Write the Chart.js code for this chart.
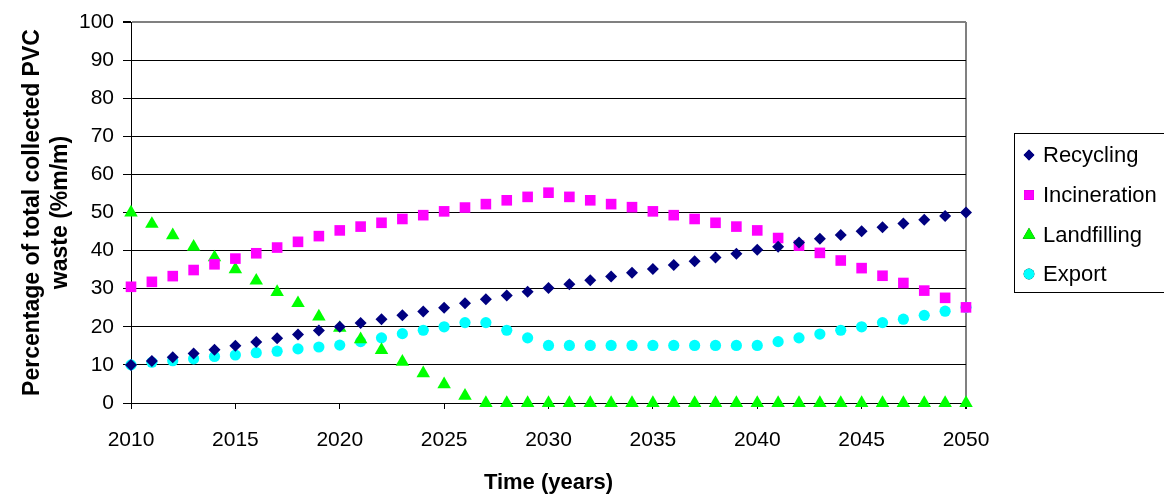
<!DOCTYPE html>
<html>
<head>
<meta charset="utf-8">
<script src="https://cdn.jsdelivr.net/npm/chart.js@4/dist/chart.umd.min.js"></script>
<style>
  html, body { margin: 0; padding: 0; background: #fff; }
  #wrap { width: 1164px; height: 496px; position: relative; }
</style>
</head>
<body>
<div id="wrap"><canvas id="c" width="1164" height="496"></canvas></div>
<script>
const years = [2010,2011,2012,2013,2014,2015,2016,2017,2018,2019,2020,2021,2022,2023,2024,2025,2026,2027,2028,2029,2030,2031,2032,2033,2034,2035,2036,2037,2038,2039,2040,2041,2042,2043,2044,2045,2046,2047,2048,2049,2050];
const recycling = [10,11,12,13,14,15,16,17,18,19,20,21,22,23,24,25,26.2,27.2,28.2,29.2,30.2,31.2,32.2,33.2,34.2,35.2,36.2,37.2,38.2,39.2,40.2,41,42.1,43.1,44.1,45.1,46.1,47.1,48.1,49.1,50];
const incineration = [30.5,31.8,33.3,34.9,36.4,37.9,39.3,40.8,42.3,43.8,45.3,46.3,47.3,48.3,49.3,50.3,51.3,52.2,53.2,54.1,55.2,54.1,53.2,52.2,51.4,50.3,49.3,48.3,47.3,46.3,45.3,43.3,41.3,39.4,37.4,35.4,33.4,31.5,29.5,27.6,25.1];
const landfilling = [50,47,44,41,38.2,35.1,32.1,29.1,26.2,22.7,19.7,16.7,13.9,10.8,7.8,4.9,1.9,0,0,0,0,0,0,0,0,0,0,0,0,0,0,0,0,0,0,0,0,0,0,0,0];
const exportVals = [10,10.7,11.1,11.6,12.2,12.6,13.2,13.6,14.2,14.7,15.2,16.1,17.1,18.2,19.1,20,21.1,21.1,19.1,17.1,15.1,15.1,15.1,15.1,15.1,15.1,15.1,15.1,15.1,15.1,15.1,16.1,17.1,18.1,19.1,20,21.1,22,23,24.1,25.1];
const seriesNames = ['Recycling','Incineration','Landfilling','Export'];
const yTitle = ['Percentage of total collected PVC', 'waste (%m/m)'];
const xTitle = 'Time (years)';

const FONT = "'Liberation Sans', Arial, sans-serif";
const toPts = vals => years.map((yr, i) => ({x: yr, y: vals[i]}));

const styles = [
  {pointStyle: 'rectRot', color: '#000080', radius: 6},
  {pointStyle: 'rect', color: '#FF00FF', radius: 7.5},
  {pointStyle: 'triangle', color: '#00FF00', radius: 7.8},
  {pointStyle: 'circle', color: '#00FFFF', radius: 5.6}
];
const seriesData = [recycling, incineration, landfilling, exportVals];

const datasets = seriesNames.map((name, k) => ({
  label: name,
  data: toPts(seriesData[k]),
  showLine: false,
  pointStyle: styles[k].pointStyle,
  pointRadius: styles[k].radius,
  pointHoverRadius: styles[k].radius,
  pointBackgroundColor: styles[k].color,
  pointBorderColor: styles[k].color,
  pointBorderWidth: 0,
  clip: false
}));

const legendPlugin = {
  id: 'boxLegend',
  afterDraw(chart) {
    const ctx = chart.ctx;
    ctx.save();
    ctx.strokeStyle = '#000';
    ctx.lineWidth = 1;
    ctx.strokeRect(1014.5, 133.5, 170, 159);
    const rows = [155, 195, 235, 274];
    ctx.font = '22px ' + FONT;
    ctx.textBaseline = 'middle';
    ctx.textAlign = 'left';
    chart.data.datasets.forEach((ds, i) => {
      Chart.helpers.drawPoint(ctx, {
        pointStyle: ds.pointStyle,
        radius: ds.pointStyle === 'triangle' ? 7.3 : (ds.pointStyle === 'rect' ? 7 : 5.4),
        borderWidth: 0,
        rotation: 0
      }, 1029, rows[i]);
      ctx.fillStyle = ds.pointBackgroundColor;
      ctx.fill();
      ctx.fillStyle = '#000';
      ctx.fillText(ds.label, 1043, rows[i] + 1);
    });
    ctx.restore();
  }
};

new Chart(document.getElementById('c'), {
  type: 'scatter',
  data: { datasets },
  plugins: [legendPlugin],
  options: {
    responsive: false,
    animation: false,
    devicePixelRatio: 1,
    layout: { padding: { top: 22, right: 198, bottom: 0, left: 0 } },
    plugins: { legend: { display: false }, tooltip: { enabled: false } },
    scales: {
      x: {
        type: 'linear',
        min: 2010, max: 2050,
        afterFit(scale) { scale.height = 93; },
        ticks: { stepSize: 5, color: '#000', font: { family: FONT, size: 21 }, padding: 19,
                 callback: v => String(v), maxRotation: 0, autoSkip: false },
        grid: {
          drawOnChartArea: true,
          color: c => (c.tick && c.tick.value === 2050) ? '#808080' : 'rgba(0,0,0,0)',
          lineWidth: c => (c.tick && c.tick.value === 2050) ? 2 : 1,
          tickColor: '#000',
          tickLength: 6
        },
        border: { display: true, color: '#000', width: 1 },
        title: { display: true, text: xTitle, color: '#000', font: { family: FONT, size: 22, weight: 'bold' }, padding: { top: 0, bottom: 0 } }
      },
      y: {
        min: 0, max: 100,
        afterFit(scale) { scale.width = 131; },
        ticks: { stepSize: 10, color: '#000', font: { family: FONT, size: 21 }, padding: 9 },
        grid: {
          color: c => (c.tick && c.tick.value === 100) ? '#808080' : '#000',
          lineWidth: c => (c.tick && c.tick.value === 100) ? 2 : 1,
          tickColor: '#000',
          tickLength: 8
        },
        border: { display: true, color: '#000', width: 1 },
        title: { display: true, text: yTitle, color: '#000', font: { family: FONT, size: 23, weight: 'bold' }, padding: { top: 19, bottom: 0 } }
      }
    }
  }
});
</script>
</body>
</html>
